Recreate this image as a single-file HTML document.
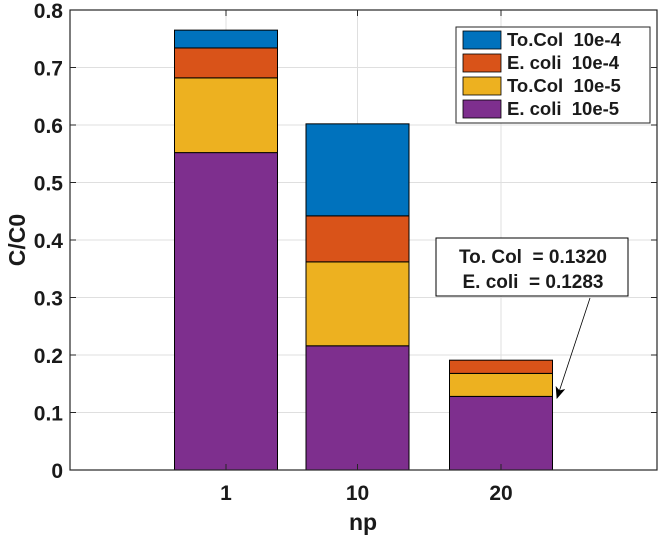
<!DOCTYPE html>
<html><head><style>
body{margin:0;background:#fff;}
svg text{font-family:"Liberation Sans",Arial,sans-serif;font-weight:bold;fill:#1a1a1a;white-space:pre;}
</style></head><body>
<svg id="chart" width="659" height="536" xmlns="http://www.w3.org/2000/svg">
<defs><marker id="ah" markerWidth="12" markerHeight="10" refX="11" refY="5" orient="auto" markerUnits="userSpaceOnUse"><path d="M0,0 L12,5 L0,10 L3,5 Z" fill="#000"/></marker></defs>
<g id="grid"></g><g id="bars"></g><g id="axes"></g>
<g id="legend"></g>
<g>
<rect x="436" y="238" width="192" height="58" fill="#fff" stroke="#000" stroke-width="1"/>
<text x="533" y="263" font-size="19" text-anchor="middle">To. Col  = 0.1320</text>
<text x="533" y="288" font-size="19" text-anchor="middle">E. coli  = 0.1283</text>
<line x1="590" y1="298" x2="557" y2="398" stroke="#000" stroke-width="0.8" marker-end="url(#ah)"/>
</g>
</svg>
<script>
const categories=["1","10","20"];
const ecoli5=[0.552,0.216,0.128];
const tocol5=[0.130,0.146,0.040];
const ecoli4=[0.052,0.080,0.023];
const tocol4=[0.031,0.160,0];
const yTicks=[0,0.1,0.2,0.3,0.4,0.5,0.6,0.7,0.8];
const seriesNames=["To.Col  10e-4","E. coli  10e-4","To.Col  10e-5","E. coli  10e-5"];
const NS="http://www.w3.org/2000/svg";
const L=70,R=657,T=10,B=470;
const y=v=>B-(v/0.8)*(B-T);
const x=i=>226+i*137.5-(i===1?6:0);
const bw=103;
function mk(tag,attrs,parent,txt){const e=document.createElementNS(NS,tag);for(const k in attrs)e.setAttribute(k,attrs[k]);if(txt!==undefined)e.textContent=txt;parent.appendChild(e);return e;}
const grid=document.getElementById('grid'),bars=document.getElementById('bars'),axes=document.getElementById('axes'),legend=document.getElementById('legend');
yTicks.forEach(t=>{
 const g=mk('line',{x1:L,x2:R,y1:y(t),y2:y(t),stroke:'#dfdfdf','stroke-width':1},grid);
 
 
 const lb=mk('text',{x:L-7,y:y(t)+8,'font-size':21,'text-anchor':'end'},axes,String(t));
 
 
 mk('line',{x1:L,x2:L+6,y1:y(t),y2:y(t),stroke:'#262626'},axes);
 mk('line',{x1:R-6,x2:R,y1:y(t),y2:y(t),stroke:'#262626'},axes);
});
categories.forEach((c,i)=>{
 const g=mk('line',{x1:x(i),x2:x(i),y1:T,y2:B,stroke:'#dfdfdf','stroke-width':1},grid);
 
 
 const lb=mk('text',{x:x(i),y:500,'font-size':21,'text-anchor':'middle'},axes,c);
 
 
});
const stack=[ecoli5,tocol5,ecoli4,tocol4];
const colors=['#7e2f8e','#edb120','#d95319','#0072bd'];
const names=['bar-ecoli-10e-5','bar-tocol-10e-5','bar-ecoli-10e-4','bar-tocol-10e-4'];
categories.forEach((c,i)=>{
 let base=0;
 stack.forEach((s,k)=>{
  const v=s[i];
  if(v>0){
   const r=mk('rect',{x:x(i)-bw/2,y:y(base+v),width:bw,height:y(base)-y(base+v),fill:colors[k],stroke:'#000','stroke-width':1},bars);
   
   
  }
  base+=v;
 });
});
categories.forEach((c,i)=>{
 mk('line',{x1:x(i),x2:x(i),y1:B,y2:B-6,stroke:'#262626'},axes);
 mk('line',{x1:x(i),x2:x(i),y1:T,y2:T+6,stroke:'#262626'},axes);
});
const fr=mk('rect',{x:L,y:T,width:R-L,height:B-T,fill:'none',stroke:'#262626','stroke-width':1.2},axes);


const xt=mk('text',{x:363,y:530,'font-size':23,'text-anchor':'middle'},axes,'np');


const yt=mk('text',{x:0,y:0,'font-size':23,'text-anchor':'middle',transform:'translate(25,240) rotate(-90)'},axes,'C/C0');


const lb=mk('rect',{x:456,y:27,width:194,height:96,fill:'#fff',stroke:'#262626','stroke-width':1},legend);


const lcol=['#0072bd','#d95319','#edb120','#7e2f8e'];
seriesNames.forEach((n,j)=>{
 const yy=31+j*23;
 const sw=mk('rect',{x:463,y:yy,width:38,height:18,fill:lcol[j],stroke:'#000','stroke-width':0.8},legend);
 
 
 const t=mk('text',{x:507,y:yy+15,'font-size':18.5},legend,n);
 
 
});
</script>
</body></html>
